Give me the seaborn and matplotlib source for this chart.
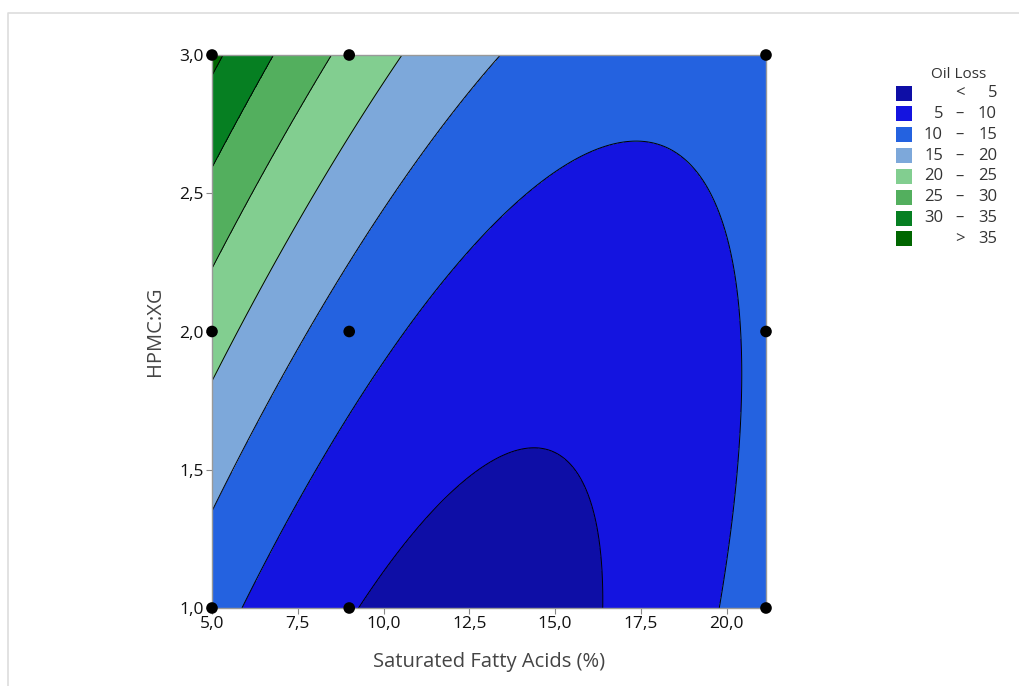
import numpy as np
import pandas as pd
import matplotlib.pyplot as plt
import seaborn as sns
from matplotlib.patches import Rectangle
from matplotlib.lines import Line2D
from matplotlib.ticker import FuncFormatter

sns.set_style('white')
plt.rcParams['font.family'] = ['Open Sans', 'DejaVu Sans']

# design points (Saturated Fatty Acids %, HPMC:XG) and oil loss
sfa = [5.0, 5.0, 5.0, 9.0, 9.0, 9.0, 21.15, 21.15, 21.15]
hpmc = [1.0, 2.0, 3.0, 1.0, 2.0, 3.0, 1.0, 2.0, 3.0]
oil_loss = [11.8, 22.1, 36.2, 5.3, 12.6, 23.6, 12.9, 11.1, 13.0]

levels = [0, 5, 10, 15, 20, 25, 30, 35, 100]
level_labels = [('', '<', '5'), ('5', '\u2013', '10'), ('10', '\u2013', '15'), ('15', '\u2013', '20'),
                ('20', '\u2013', '25'), ('25', '\u2013', '30'), ('30', '\u2013', '35'), ('', '>', '35')]
colors = ['#0E0EA6', '#1414E0', '#2462E0', '#7DA8DA', '#82CE90', '#53AF5E', '#067F22', '#006600']

df = pd.DataFrame({'x': sfa, 'y': hpmc, 'z': oil_loss})

# full quadratic response surface fit (like minitab)
def design(x, y):
    return np.column_stack([np.ones_like(x), x, y, x * x, y * y, x * y])

coef, *_ = np.linalg.lstsq(design(df.x.values, df.y.values), df.z.values, rcond=None)
gx, gy = np.meshgrid(np.linspace(5, 21.15, 300), np.linspace(1, 3, 300))
gz = (design(gx.ravel(), gy.ravel()) @ coef).reshape(gx.shape)

fig = plt.figure(figsize=(10.2, 6.86), dpi=100)
ax = fig.add_axes([212 / 1020, 1 - 608 / 686, 554 / 1020, 553 / 686])
ax.contourf(gx, gy, gz, levels=levels, colors=colors)
ax.contour(gx, gy, gz, levels=levels[1:-1], colors='black', linewidths=0.7)
sns.scatterplot(data=df, x='x', y='y', ax=ax, color='black', s=70, edgecolor='none',
                zorder=5, clip_on=False, legend=False)

ax.set_xlim(5, 21.15)
ax.set_ylim(1, 3)
ax.set_xticks([5, 7.5, 10, 12.5, 15, 17.5, 20])
ax.set_yticks([1, 1.5, 2, 2.5, 3])
fmt = FuncFormatter(lambda v, p: f'{v:.1f}'.replace('.', ','))
ax.xaxis.set_major_formatter(fmt)
ax.yaxis.set_major_formatter(fmt)
ax.tick_params(axis='both', length=4, width=0.8, color='#888888', labelsize=12.5,
               labelcolor='#111111', pad=2)
ax.tick_params(axis='both', bottom=True, left=True)
for s in ax.spines.values():
    s.set_color('#999999')
    s.set_linewidth(1)
ax.set_xlabel('Saturated Fatty Acids (%)', fontsize=14.5, color='#444444', labelpad=14)
ax.set_ylabel('HPMC:XG', fontsize=14.5, color='#444444', labelpad=10)

# legend drawn by hand so columns line up
W, H = 1020, 686
fig.text(959 / W, 1 - 74 / H, 'Oil Loss', ha='center', va='center', fontsize=11, color='#333333')
for i, (lo, mid, hi) in enumerate(level_labels):
    yc = 93 + i * 20.85
    fig.patches.append(Rectangle((896 / W, 1 - (yc + 7.5) / H), 16 / W, 15 / H,
                                 transform=fig.transFigure, facecolor=colors[i], edgecolor='none'))
    fig.text(943 / W, 1 - yc / H, lo, ha='right', va='center', fontsize=12, color='#333333')
    fig.text(960 / W, 1 - yc / H, mid, ha='center', va='center', fontsize=12, color='#333333')
    fig.text(997 / W, 1 - yc / H, hi, ha='right', va='center', fontsize=12, color='#333333')

# light frame around the panel
fig.lines.append(Line2D([8.5 / W, 8.5 / W, 1], [0, 1 - 12.5 / H, 1 - 12.5 / H],
                        transform=fig.transFigure, color='#DDDDDD', linewidth=1.2))

plt.savefig('out.png', dpi=100)
